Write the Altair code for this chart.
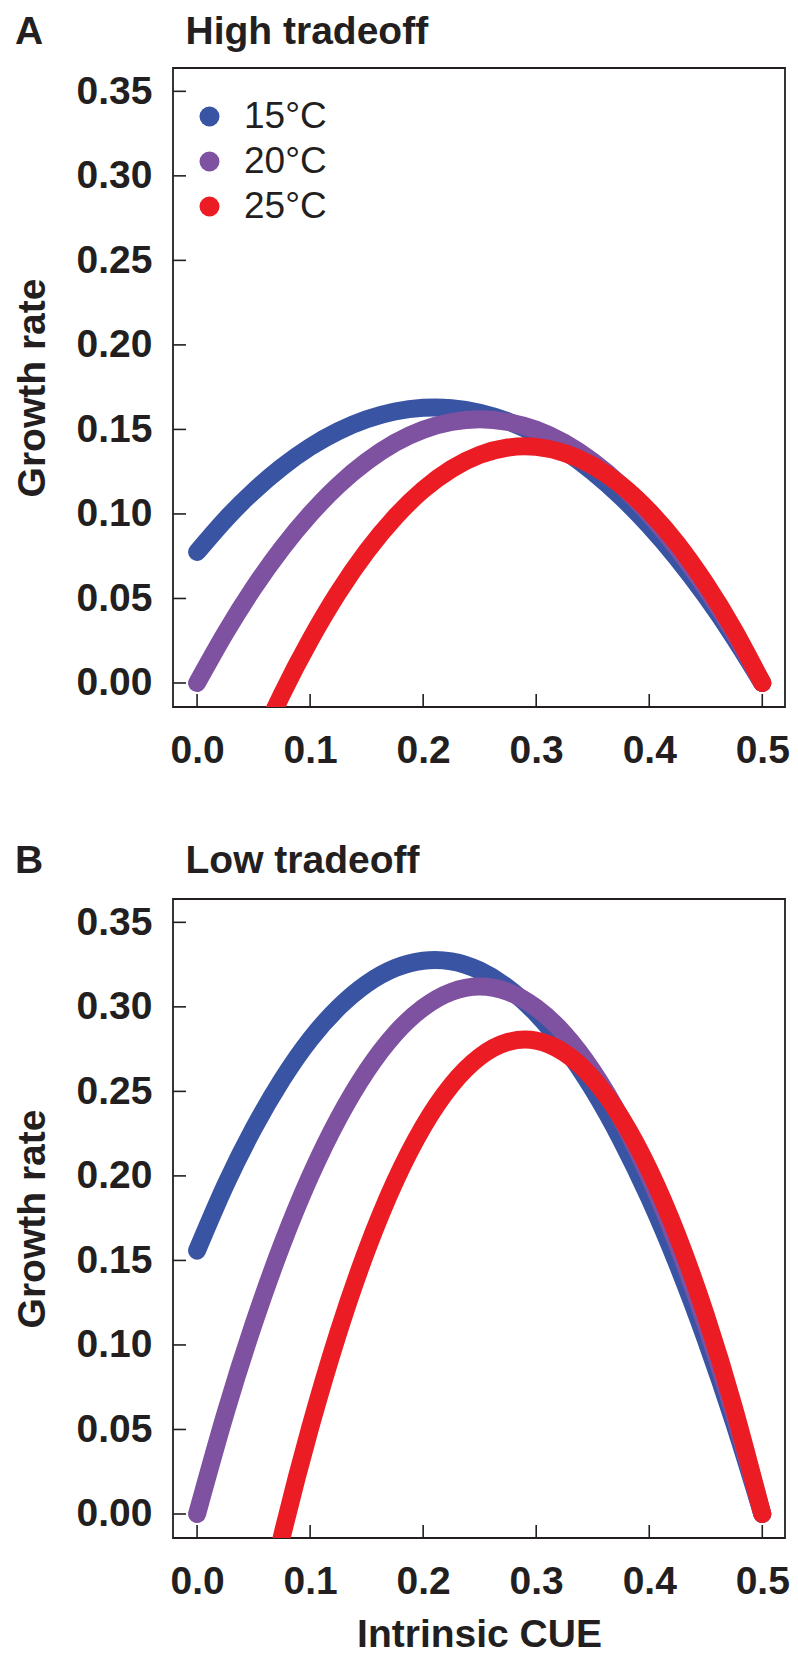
import altair as alt
import pandas as pd

# ---------------- data ----------------
SERIES = ["15°C", "20°C", "25°C"]
COLORS = ["#3A54A4", "#7F51A1", "#EC1C24"]

CUE = [0.0, 0.025, 0.05, 0.075, 0.1, 0.125, 0.15, 0.175, 0.2, 0.225, 0.25,
       0.275, 0.3, 0.325, 0.35, 0.375, 0.4, 0.425, 0.45, 0.475, 0.5]
RED_CUE = [0.05, 0.075, 0.1, 0.125, 0.15, 0.175, 0.2, 0.225, 0.25,
           0.275, 0.3, 0.325, 0.35, 0.375, 0.4, 0.425, 0.45, 0.475, 0.5]

# Panel A: High tradeoff
A_15 = [0.0775, 0.0967, 0.1134, 0.1277, 0.1396, 0.1490, 0.1560, 0.1606, 0.1628, 0.1626, 0.1599,
        0.1548, 0.1473, 0.1374, 0.1250, 0.1102, 0.0930, 0.0734, 0.0514, 0.0269, 0.0]
A_20 = [0.0, 0.0296, 0.0562, 0.0796, 0.0998, 0.1170, 0.1310, 0.1420, 0.1498, 0.1544, 0.1560,
        0.1544, 0.1498, 0.1420, 0.1310, 0.1170, 0.0998, 0.0796, 0.0562, 0.0296, 0.0]
A_25 = [-0.0429, -0.0067, 0.0254, 0.0536, 0.0778, 0.0980, 0.1143, 0.1266, 0.1349,
        0.1393, 0.1397, 0.1361, 0.1286, 0.1171, 0.1016, 0.0822, 0.0587, 0.0314, 0.0]

# Panel B: Low tradeoff
B_15 = [0.1558, 0.1944, 0.2280, 0.2567, 0.2807, 0.2995, 0.3136, 0.3229, 0.3273, 0.3269, 0.3215,
        0.3112, 0.2961, 0.2762, 0.2513, 0.2215, 0.1870, 0.1476, 0.1033, 0.0541, 0.0]
B_20 = [0.0, 0.0593, 0.1123, 0.1591, 0.1997, 0.2340, 0.2621, 0.2840, 0.2995, 0.3089, 0.3120,
        0.3089, 0.2995, 0.2840, 0.2621, 0.2340, 0.1997, 0.1591, 0.1123, 0.0593, 0.0]
B_25 = [-0.0859, -0.0135, 0.0509, 0.1074, 0.1559, 0.1965, 0.2291, 0.2537, 0.2704,
        0.2792, 0.2800, 0.2728, 0.2577, 0.2346, 0.2036, 0.1646, 0.1177, 0.0628, 0.0]

Y_TICKS = [0.0, 0.05, 0.10, 0.15, 0.20, 0.25, 0.30, 0.35]
X_TICKS = [0.0, 0.1, 0.2, 0.3, 0.4, 0.5]

X_DOMAIN = [-0.0213, 0.5201]
Y_DOMAIN = [-0.0142, 0.3638]

# ---------------- styling ----------------
FONT = "Liberation Sans"
INK = "#231F20"
W, H = 612, 639
GAP = 192


def frame(xs15, v15, xs20, v20, xs25, v25):
    rows = []
    for x, v in zip(xs15, v15):
        rows.append({"cue": x, "rate": v, "temp": SERIES[0]})
    for x, v in zip(xs20, v20):
        rows.append({"cue": x, "rate": v, "temp": SERIES[1]})
    for x, v in zip(xs25, v25):
        rows.append({"cue": x, "rate": v, "temp": SERIES[2]})
    return pd.DataFrame(rows)


xscale = alt.Scale(domain=X_DOMAIN, nice=False, zero=False)
yscale = alt.Scale(domain=Y_DOMAIN, nice=False, zero=False)
cscale = alt.Scale(domain=SERIES, range=COLORS)


def panel(df, letter, title, title_y, x_title, legend):
    x_kw = dict(values=X_TICKS, format=".1f", ticks=False, domain=False,
                grid=False, labelFont=FONT, labelFontSize=39, labelFontWeight="bold",
                labelColor=INK, labelPadding=55, labelBaseline="alphabetic",
                labelFlush=False, labelOverlap=False, labelBound=False)
    if x_title:
        x_axis = alt.Axis(title=x_title, titleFont=FONT, titleFontSize=39,
                          titleFontWeight="bold", titleColor=INK,
                          titleBaseline="alphabetic", titleY=108, titleX=W / 2, **x_kw)
    else:
        x_axis = alt.Axis(title=None, **x_kw)
    y_axis = alt.Axis(values=Y_TICKS, format=".2f", ticks=False, domain=False,
                      grid=False, labelFont=FONT, labelFontSize=39, labelFontWeight="bold",
                      labelColor=INK, labelPadding=21, labelBaseline="middle",
                      labelFlush=False, labelOverlap=False, labelBound=False,
                      title="Growth rate", titleFont=FONT, titleFontSize=39,
                      titleFontWeight="bold", titleColor=INK, titleAngle=270,
                      titleBaseline="alphabetic", titleAlign="center",
                      titleX=-129, titleY=H / 2)

    if legend:
        leg = alt.Legend(orient="none", legendX=18, legendY=30, title=None,
                         symbolType="circle", symbolSize=400, symbolStrokeWidth=0,
                         symbolOpacity=1, labelFont=FONT, labelFontSize=37,
                         labelColor=INK, labelOffset=16, rowPadding=7, padding=0)
        dot_color = alt.Color("temp:N", scale=cscale, legend=leg)
    else:
        dot_color = alt.Color("temp:N", scale=cscale, legend=None)

    # filled dots (hidden under the bands) carry the legend
    dots = alt.Chart(df).mark_circle(size=200, opacity=1, clip=True).encode(
        x=alt.X("cue:Q", scale=xscale, axis=x_axis),
        y=alt.Y("rate:Q", scale=yscale, axis=y_axis),
        color=dot_color,
    )

    curves = alt.Chart(df).mark_line(
        strokeWidth=18, strokeCap="round", strokeJoin="round",
        interpolate="natural", clip=True).encode(
        x=alt.X("cue:Q", scale=xscale),
        y=alt.Y("rate:Q", scale=yscale),
        color=alt.Color("temp:N", scale=cscale, legend=None),
        order=alt.Order("cue:Q"),
    )

    yticks = alt.Chart(pd.DataFrame({"cue": [0.0] * len(Y_TICKS), "rate": Y_TICKS})).mark_rule(
        color=INK, strokeWidth=1.6).encode(
        y=alt.Y("rate:Q", scale=yscale), x=alt.value(0), x2=alt.value(13))
    xticks = alt.Chart(pd.DataFrame({"cue": X_TICKS, "rate": [0.0] * len(X_TICKS)})).mark_rule(
        color=INK, strokeWidth=1.6).encode(
        x=alt.X("cue:Q", scale=xscale), y=alt.value(H), y2=alt.value(H - 13))

    head_letter = alt.Chart(pd.DataFrame({"t": [letter]})).mark_text(
        font=FONT, fontSize=39, fontWeight="bold", align="left", baseline="alphabetic",
        color=INK).encode(text="t:N", x=alt.value(-158), y=alt.value(title_y))
    head_title = alt.Chart(pd.DataFrame({"t": [title]})).mark_text(
        font=FONT, fontSize=39, fontWeight="bold", align="left", baseline="alphabetic",
        color=INK).encode(text="t:N", x=alt.value(12.5), y=alt.value(title_y))

    return alt.layer(dots, curves, yticks, xticks, head_letter, head_title).properties(
        width=W, height=H)


dfA = frame(CUE, A_15, CUE, A_20, RED_CUE, A_25)
dfB = frame(CUE, B_15, CUE, B_20, RED_CUE, B_25)

pA = panel(dfA, "A", "High tradeoff", -24, None, True)
pB = panel(dfB, "B", "Low tradeoff", -26, "Intrinsic CUE", False)

PAD_L, PAD_T = 165, 60
PAD_B = 2 * H + GAP + 117
chart = alt.vconcat(pA, pB, spacing=GAP, bounds="flush").resolve_legend(
    color="independent").properties(
    autosize=alt.AutoSizeParams(type="none"),
    padding={"left": PAD_L, "top": PAD_T, "right": 782 - PAD_L - W, "bottom": PAD_B},
    background="white",
).configure_view(stroke=INK, strokeWidth=1.8)

chart.save("out.html", embed_options={"renderer": "svg", "actions": False})
